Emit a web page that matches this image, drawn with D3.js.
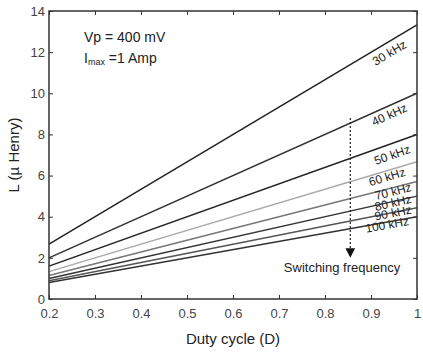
<!DOCTYPE html>
<html>
<head>
<meta charset="utf-8">
<script src="https://cdn.jsdelivr.net/npm/d3@7"></script>
<style>
  body { margin: 0; background: #fff; }
  text { font-family: Arial, "Liberation Sans", sans-serif; }
</style>
</head>
<body>
<div id="container"></div>
<script>
/* CONSTANTS AND GLOBALS */
const width = 423,
  height = 352,
  margin = { top: 11, bottom: 53, left: 49, right: 6 };

// data (L in µH at the two ends of each line)
const freqLabels = ["30 kHz", "40 kHz", "50 kHz", "60 kHz", "70 kHz", "80 kHz", "90 kHz", "100 kHz"];
const dutyEnds = [0.2, 1];
const L30 = [2.67, 13.33];
const L40 = [2.0, 10.0];
const L50 = [1.6, 8.0];
const L60 = [1.33, 6.67];
const L70 = [1.14, 5.71];
const L80 = [1.0, 5.0];
const L90 = [0.89, 4.44];
const L100 = [0.8, 4.0];
const lineColors = ["#222", "#333", "#222", "#aaa", "#777", "#333", "#555", "#333"];

// where each label sits (duty, L)
const labelD = [0.94, 0.94, 0.946, 0.935, 0.948, 0.948, 0.948, 0.935];
const labelL = [11.96, 8.95, 7.0, 5.93, 5.22, 4.67, 4.18, 3.6];

const xTicks = [0.2, 0.3, 0.4, 0.5, 0.6, 0.7, 0.8, 0.9, 1];
const yTicks = [0, 2, 4, 6, 8, 10, 12, 14];

const arrowD = 0.855, arrowTop = 8.8, arrowBottom = 2.0;

const series = [L30, L40, L50, L60, L70, L80, L90, L100].map((vals, i) => ({
  name: freqLabels[i],
  color: lineColors[i],
  values: dutyEnds.map((d, j) => ({ d: d, L: vals[j] }))
}));

const svg = d3.select("#container")
  .append("svg")
  .attr("width", width)
  .attr("height", height);

/* SCALES */
const xScale = d3.scaleLinear()
  .domain([0.2, 1])
  .range([margin.left, width - margin.right]);

const yScale = d3.scaleLinear()
  .domain([0, 14])
  .range([height - margin.bottom, margin.top]);

// lines
const line = d3.line()
  .x(d => xScale(d.d))
  .y(d => yScale(d.L));

svg.selectAll("path.series")
  .data(series)
  .join("path")
  .attr("class", "series")
  .attr("d", d => line(d.values))
  .attr("fill", "none")
  .attr("stroke", d => d.color)
  .attr("stroke-width", 1.5);

// labels, rotated along their line
svg.selectAll("text.flabel")
  .data(series)
  .join("text")
  .attr("class", "flabel")
  .attr("text-anchor", "middle")
  .attr("dominant-baseline", "central")
  .attr("font-size", 12)
  .attr("fill", "#222")
  .attr("transform", (d, i) => {
    const v = d.values;
    const ang = Math.atan2(yScale(v[1].L) - yScale(v[0].L), xScale(v[1].d) - xScale(v[0].d)) * 180 / Math.PI;
    return `translate(${xScale(labelD[i])},${yScale(labelL[i])}) rotate(${ang})`;
  })
  .text(d => d.name);

// axes - ticks pointing inward, box all round
svg.append("g")
  .attr("class", "x-axis")
  .attr("transform", `translate(0, ${height - margin.bottom})`)
  .call(d3.axisBottom(xScale).tickValues(xTicks).tickFormat(d3.format("")).tickSizeInner(-4).tickSizeOuter(0).tickPadding(10));

svg.append("g")
  .attr("class", "y-axis")
  .attr("transform", `translate(${margin.left}, 0)`)
  .call(d3.axisLeft(yScale).tickValues(yTicks).tickSizeInner(-4).tickSizeOuter(0).tickPadding(4));

svg.append("g")
  .attr("transform", `translate(0, ${margin.top})`)
  .call(d3.axisTop(xScale).tickValues(xTicks).tickFormat("").tickSizeInner(-4).tickSizeOuter(0));

svg.append("g")
  .attr("transform", `translate(${width - margin.right}, 0)`)
  .call(d3.axisRight(yScale).tickValues(yTicks).tickFormat("").tickSizeInner(-4).tickSizeOuter(0));

svg.selectAll(".tick text").attr("font-size", 13).attr("fill", "#444");
svg.selectAll(".domain").remove();
svg.selectAll(".tick line").attr("stroke", "#333");

svg.append("rect")
  .attr("x", margin.left)
  .attr("y", margin.top)
  .attr("width", width - margin.left - margin.right)
  .attr("height", height - margin.top - margin.bottom)
  .attr("fill", "none")
  .attr("stroke", "#333")
  .attr("stroke-width", 1.5);

// axis labels
svg.append("text")
  .attr("x", (margin.left + width - margin.right) / 2)
  .attr("y", 338)
  .attr("text-anchor", "middle")
  .attr("dominant-baseline", "central")
  .attr("font-size", 15)
  .attr("fill", "#222")
  .text("Duty cycle (D)");

svg.append("text")
  .attr("transform", `translate(13, 155) rotate(-90)`)
  .attr("text-anchor", "middle")
  .attr("dominant-baseline", "central")
  .attr("font-size", 15)
  .attr("fill", "#222")
  .text("L (µ Henry)");

// parameter notes
svg.append("text")
  .attr("x", 84)
  .attr("y", 37)
  .attr("dominant-baseline", "central")
  .attr("font-size", 14)
  .attr("fill", "#222")
  .text("Vp = 400 mV");

const imax = svg.append("text")
  .attr("x", 84)
  .attr("y", 58)
  .attr("dominant-baseline", "central")
  .attr("font-size", 14)
  .attr("fill", "#222");
imax.append("tspan").text("I");
imax.append("tspan").attr("font-size", 9).attr("dy", 4).text("max");
imax.append("tspan").attr("dy", -4).text(" =1 Amp");

// switching frequency arrow
svg.append("defs").append("marker")
  .attr("id", "arrow")
  .attr("viewBox", "0 0 10 10")
  .attr("refX", 10)
  .attr("refY", 5)
  .attr("markerWidth", 8)
  .attr("markerHeight", 8)
  .attr("orient", "auto")
  .append("path")
  .attr("d", "M0,0L10,5L0,10Z")
  .attr("fill", "#111");

svg.append("line")
  .attr("x1", xScale(arrowD))
  .attr("x2", xScale(arrowD))
  .attr("y1", yScale(arrowTop))
  .attr("y2", yScale(arrowBottom))
  .attr("stroke", "#222")
  .attr("stroke-width", 1.2)
  .attr("stroke-dasharray", "2,2")
  .attr("marker-end", "url(#arrow)");

svg.append("text")
  .attr("x", 342)
  .attr("y", 267)
  .attr("text-anchor", "middle")
  .attr("dominant-baseline", "central")
  .attr("font-size", 13)
  .attr("fill", "#222")
  .text("Switching frequency");
</script>
</body>
</html>
